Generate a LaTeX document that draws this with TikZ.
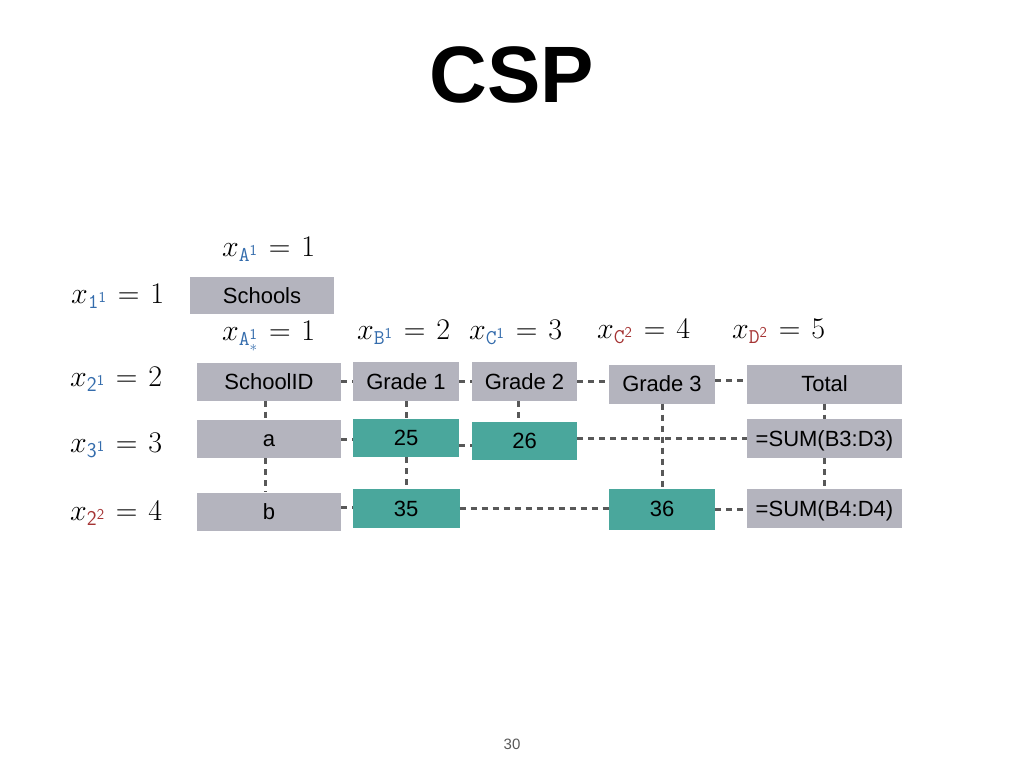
\documentclass[tikz,border=0pt]{standalone}
\usepackage{fix-cm}
\usepackage{fontspec}
\setmainfont{Liberation Sans}
\usepackage{xcolor}
\definecolor{boxgray}{RGB}{180,180,190}
\definecolor{teal2}{RGB}{74,167,156}
\definecolor{myblue}{RGB}{52,108,172}
\definecolor{myred}{RGB}{165,52,52}
\definecolor{lnk}{RGB}{88,88,88}
\newcommand{\cblue}[1]{\textcolor{myblue}{#1}}
\newcommand{\cred}[1]{\textcolor{myred}{#1}}
\newcommand{\eqq}{\mkern1.5mu=\mkern1.5mu}
\begin{document}
\begin{tikzpicture}[x=1pt,y=-1pt,
  cell/.style={fill=boxgray,draw=none,inner sep=0pt,text height=15.6pt,text depth=0pt,font=\fontsize{22}{26}\selectfont},
  tcell/.style={fill=teal2,draw=none,inner sep=0pt,text height=15.6pt,text depth=0pt,font=\fontsize{22}{26}\selectfont},
  mlab/.style={anchor=base west,inner sep=0pt,font=\fontsize{30}{36}\selectfont},
  conn/.style={draw=lnk,line width=3pt,dash pattern=on 6pt off 5pt}]
\useasboundingbox (0,0) rectangle (1024,768);
\node[inner sep=0pt,font=\fontsize{80}{90}\selectfont\bfseries] (title) at (512,75) {CSP};
\node[inner sep=0pt,font=\fontsize{15}{18}\selectfont,text=lnk] (page) at (512,744) {30};

% boxes
\node[cell,minimum width=144pt,minimum height=37pt] (sch) at (262,295.5) {Schools};
\node[cell,minimum width=144pt,minimum height=38pt] (sid) at (269,381.5) {SchoolID};
\node[cell,minimum width=106pt,minimum height=39pt] (g1) at (406,381.5) {Grade 1};
\node[cell,minimum width=105pt,minimum height=39pt] (g2) at (524.5,381.5) {Grade 2};
\node[cell,minimum width=106pt,minimum height=39pt] (g3) at (662,384) {Grade 3};
\node[cell,minimum width=155pt,minimum height=39pt] (tot) at (824.5,384) {Total};
\node[cell,minimum width=144pt,minimum height=38pt] (a) at (269,439) {a};
\node[tcell,minimum width=106pt,minimum height=38pt] (v25) at (406,438) {25};
\node[tcell,minimum width=105pt,minimum height=38pt] (v26) at (524.5,440.5) {26};
\node[cell,minimum width=155pt,minimum height=39pt] (s3) at (824.5,438.5) {=SUM(B3:D3)};
\node[cell,minimum width=144pt,minimum height=38pt] (b) at (269,511.5) {b};
\node[tcell,minimum width=107pt,minimum height=39pt] (v35) at (406,508.5) {35};
\node[tcell,minimum width=106pt,minimum height=41pt] (v36) at (662,509) {36};
\node[cell,minimum width=155pt,minimum height=39pt] (s4) at (824.5,508.5) {=SUM(B4:D4)};

% labels
\node[mlab] (lA) at (222,256) {$x_{\cblue{\mathtt{A}^{\mathsf{1}}}}\eqq 1$};
\node[mlab] (l11) at (71,303) {$x_{\cblue{\mathtt{1}^{\mathsf{1}}}}\eqq 1$};
\node[mlab] (lAs) at (222,340) {$x_{\cblue{\mathtt{A}^{\mathsf{1}}_{*}}}\eqq 1$};
\node[mlab] (lB) at (357,339) {$x_{\cblue{\mathtt{B}^{\mathsf{1}}}}\eqq 2$};
\node[mlab] (lC1) at (469,339) {$x_{\cblue{\mathtt{C}^{\mathsf{1}}}}\eqq 3$};
\node[mlab] (lC2) at (597,338) {$x_{\cred{\mathtt{C}^{\mathsf{2}}}}\eqq 4$};
\node[mlab] (lD2) at (732,338) {$x_{\cred{\mathtt{D}^{\mathsf{2}}}}\eqq 5$};
\node[mlab] (l21) at (70,386) {$x_{\cblue{\mathsf{2}^{\mathsf{1}}}}\eqq 2$};
\node[mlab] (l31) at (70,452) {$x_{\cblue{\mathsf{3}^{\mathsf{1}}}}\eqq 3$};
\node[mlab] (l22) at (70,520) {$x_{\cred{\mathsf{2}^{\mathsf{2}}}}\eqq 4$};

% horizontal connectors
\draw[conn] (sid.east) -- (g1.west);
\draw[conn] (g1.east) -- (g2.west);
\draw[conn] (g2.east) -- (g2.east -| g3.west);
\draw[conn] ([yshift=4pt]g3.east) -- ([yshift=4pt]tot.west);
\draw[conn] (a.east) -- (a.east -| v25.west);
\draw[conn] ([yshift=-7pt]v25.east) -- ([yshift=-7pt]v25.east -| v26.west);
\draw[conn] ([yshift=2.5pt]v26.east) -- ([yshift=2.5pt]v26.east -| s3.west);
\draw[conn] ([yshift=4.5pt]b.east) -- ([yshift=4.5pt]b.east -| v35.west);
\draw[conn] (v35.east) -- (v35.east -| v36.west);
\draw[conn] (v36.east) -- (v36.east -| s4.west);

% vertical connectors
\draw[conn] ([xshift=-4pt]sid.south) -- ([xshift=-4pt]a.north);
\draw[conn] ([xshift=-4pt]a.south) -- ([xshift=-4pt]b.north);
\draw[conn] (g1.south) -- (v25.north);
\draw[conn] (v25.south) -- (v35.north);
\draw[conn] ([xshift=-6pt]g2.south) -- ([xshift=-6pt]v26.north);
\draw[conn] (g3.south) -- (v36.north);
\draw[conn] (tot.south) -- (s3.north);
\draw[conn] (s3.south) -- (s4.north);
\end{tikzpicture}
\end{document}
